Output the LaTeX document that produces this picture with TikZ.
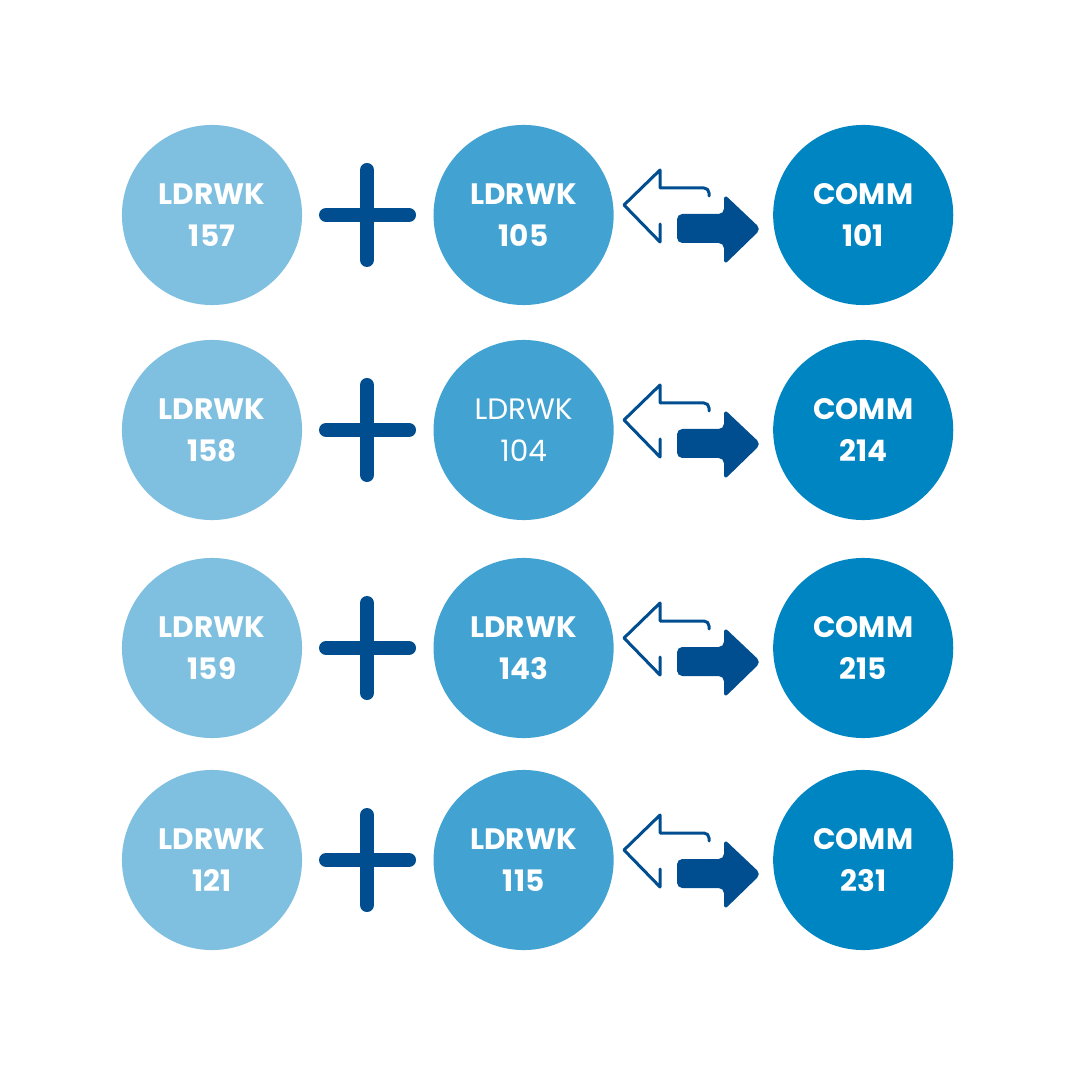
\documentclass[tikz,border=0pt]{standalone}
\usepackage{fontspec}
\setmainfont{Poppins}
\usepackage{xcolor}
\usetikzlibrary{positioning}
\definecolor{lightblue}{HTML}{7FBFE0}
\definecolor{midblue}{HTML}{42A3D2}
\definecolor{deepblue}{HTML}{0085C3}
\definecolor{navy}{HTML}{004E8F}
\tikzstyle{lc} = [circle, minimum size=1.8cm, inner sep=0pt, fill=lightblue, text=white, align=center, font=\bfseries\fontsize{8.4}{12}\selectfont]
\tikzstyle{mc} = [lc, fill=midblue]
\tikzstyle{dc} = [lc, fill=deepblue]
\tikzstyle{plusbar} = [navy, line width=0.14cm, line cap=round]
\tikzstyle{outarrow} = [navy, line width=0.03cm, line join=round, line cap=round]

\begin{document}
\begin{tikzpicture}[x=0.01cm, y=-0.01cm]
\useasboundingbox (0,0) rectangle (1080,1080);

\foreach \r/\y/\a/\b/\c/\wt in {1/215/157/105/101/\bfseries, 2/430/158/104/214/\mdseries, 3/648/159/143/215/\bfseries, 4/860/121/115/231/\bfseries} {
  \node (a\r) [lc] at (212,\y) {LDRWK\\\a};
  \node (b\r) [mc, right=1.3cm of a\r, font=\wt\fontsize{8.4}{12}\selectfont] {LDRWK\\\b};
  \node (c\r) [dc, right=1.58cm of b\r] {COMM\\\c};

  % plus sign
  \draw [plusbar] (326,\y) -- (409,\y);
  \draw [plusbar] (367,\y-45) -- (367,\y+45);

  % outlined left arrow
  \draw [outarrow] (660,\y+9) -- (660,\y+27) -- (624,\y-10) -- (660,\y-45) -- (660,\y-27) -- (704,\y-27) arc (-90:0:5) -- (709,\y-19);
  % filled right arrow
  \fill [navy, rounded corners=1.5pt] (677,\y-1) -- (724,\y-1) -- (724,\y-21) -- (761,\y+14) -- (724,\y+50) -- (724,\y+28) -- (677,\y+28) -- cycle;
}
\end{tikzpicture}
\end{document}
